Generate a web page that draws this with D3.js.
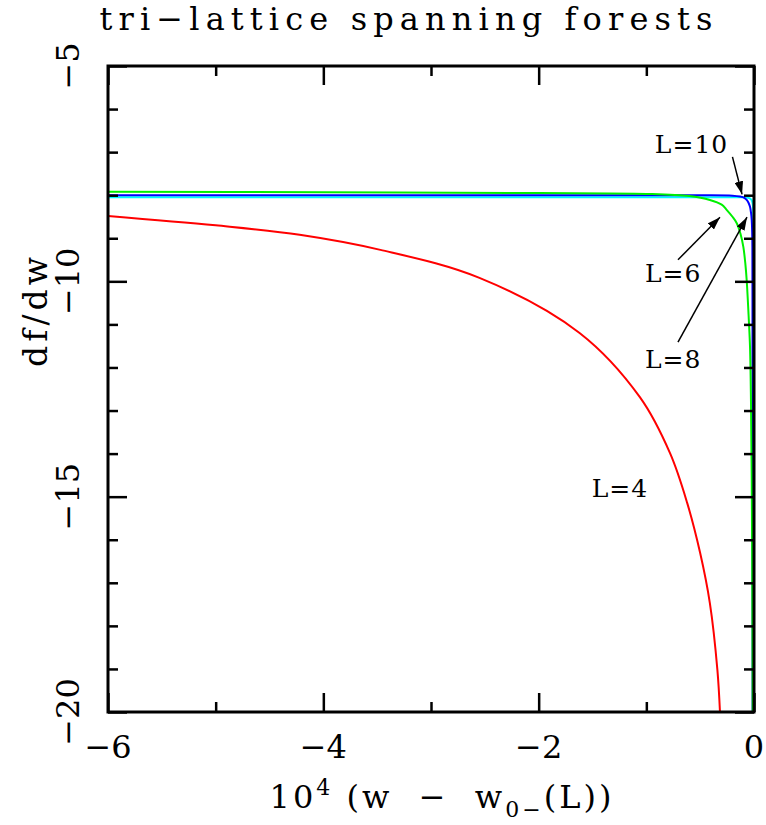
<!DOCTYPE html>
<html>
<head>
<meta charset="utf-8">
<script src="https://cdn.jsdelivr.net/npm/d3@7"></script>
<style>
  body { margin: 0; background: #fff; }
  text { font-family: "DejaVu Serif", serif; fill: #000; }
</style>
</head>
<body>
<div id="chart"></div>
<script>
// Chart size
var svgWidth = 766;
var svgHeight = 825;

var margin = { top: 66, right: 12, bottom: 113, left: 108 };
var width = svgWidth - margin.left - margin.right;
var height = svgHeight - margin.top - margin.bottom;

// Tick values
var xMajorTicks = [-6, -4, -2, 0];
var xMinorTicks = [-5, -3, -1];
var yMajorTicks = [-5, -10, -15, -20];
var yMinorTicks = [-6, -7, -8, -9, -11, -12, -13, -14, -16, -17, -18, -19];

// Series: df/dw against 10^4 (w - w0-(L))
var l4X = [-6, -5, -4.22, -3.47, -2.55, -1.62, -1.06, -0.78, -0.62, -0.5, -0.41, -0.34, -0.316];
var l4Y = [-8.48, -8.7, -8.92, -9.27, -9.92, -11.2, -12.69, -13.99, -15.15, -16.31, -17.47, -19.02, -20];

var l6X = [-6, -4, -2, -1, -0.6, -0.41, -0.3, -0.254, -0.2, -0.16, -0.125, -0.099, -0.08, -0.068, -0.05, -0.037, -0.028, -0.021, -0.015, -0.012];
var l6Y = [-7.92, -7.93, -7.95, -7.97, -8.02, -8.11, -8.22, -8.34, -8.5, -8.65, -8.9, -9.2, -9.6, -9.97, -10.8, -11.52, -12.8, -14.6, -17.7, -20];

var l8X = [-6, -2, -0.5, -0.2, -0.13, -0.09, -0.068, -0.05, -0.037, -0.028, -0.021, -0.017, -0.015, -0.014, -0.013];
var l8Y = [-8.0, -8.0, -8.0, -8.01, -8.03, -8.06, -8.11, -8.18, -8.27, -8.4, -8.58, -8.85, -9.2, -10.5, -20];

var l10X = [-6, -2, -0.5, -0.1, -0.06, -0.035, -0.021, -0.012, -0.008, -0.006, -0.005, -0.004];
var l10Y = [-8.05, -8.05, -8.05, -8.05, -8.06, -8.08, -8.12, -8.2, -8.3, -8.6, -9.5, -20];

var seriesNames = ["L=10", "L=8", "L=6", "L=4"];
var seriesColors = ["#00ffff", "#0000ff", "#00f000", "#ff0000"];
var seriesXs = [l10X, l8X, l6X, l4X];
var seriesYs = [l10Y, l8Y, l6Y, l4Y];

// Curve labels and arrows (data coordinates)
var labelTexts = ["L=10", "L=6", "L=8", "L=4"];
var labelX = [-0.58, -0.75, -0.75, -1.245];
var labelY = [-7.02, -10.02, -12.01, -15.01];
var arrowFrom = [[-0.2, -7.11], [-0.706, -9.5], [-0.706, -11.41]];
var arrowTo = [[-0.111, -7.98], [-0.316, -8.51], [-0.065, -8.51]];

var svg = d3.select("#chart")
    .append("svg")
    .attr("width", svgWidth)
    .attr("height", svgHeight);

var chartGroup = svg.append("g")
    .attr("transform", `translate(${margin.left}, ${margin.top})`);

var xScale = d3.scaleLinear().domain([-6, 0]).range([0, width]);
var yScale = d3.scaleLinear().domain([-20, -5]).range([height, 0]);

// Clip curves to the frame
svg.append("defs").append("clipPath")
    .attr("id", "plotClip")
    .append("rect")
    .attr("width", width)
    .attr("height", height);

svg.select("defs").append("marker")
    .attr("id", "arrowHead")
    .attr("viewBox", "0 0 12 8")
    .attr("refX", 12)
    .attr("refY", 4)
    .attr("markerUnits", "userSpaceOnUse")
    .attr("markerWidth", 13)
    .attr("markerHeight", 9)
    .attr("orient", "auto")
    .append("path")
    .attr("d", "M0,0 L12,4 L0,8 Z")
    .attr("fill", "#000");

// Curves
var line = d3.line()
    .x(d => xScale(d[0]))
    .y(d => yScale(d[1]))
    .curve(d3.curveCatmullRom.alpha(0.5));

var curveGroup = chartGroup.append("g").attr("clip-path", "url(#plotClip)");
seriesNames.forEach(function (name, i) {
    var pts = seriesXs[i].map((x, j) => [x, seriesYs[i][j]]);
    curveGroup.append("path")
        .datum(pts)
        .attr("fill", "none")
        .attr("stroke", seriesColors[i])
        .attr("stroke-width", 2)
        .attr("d", line);
});

// Ticks on all four sides, pointing inward
function drawTicks(axisFn, scale, values, size, transform) {
    chartGroup.append("g")
        .attr("transform", transform)
        .call(axisFn(scale).tickValues(values).tickSize(size).tickFormat(""))
        .call(g => g.select(".domain").remove())
        .call(g => g.selectAll("line").attr("stroke", "#000").attr("stroke-width", 2.5));
}
drawTicks(d3.axisBottom, xScale, xMajorTicks, -19, `translate(0, ${height})`);
drawTicks(d3.axisBottom, xScale, xMinorTicks, -10, `translate(0, ${height})`);
drawTicks(d3.axisTop, xScale, xMajorTicks, -19, "translate(0, 0)");
drawTicks(d3.axisTop, xScale, xMinorTicks, -10, "translate(0, 0)");
drawTicks(d3.axisLeft, yScale, yMajorTicks, -19, "translate(0, 0)");
drawTicks(d3.axisLeft, yScale, yMinorTicks, -10, "translate(0, 0)");
drawTicks(d3.axisRight, yScale, yMajorTicks, -19, `translate(${width}, 0)`);
drawTicks(d3.axisRight, yScale, yMinorTicks, -10, `translate(${width}, 0)`);

// Frame
chartGroup.append("rect")
    .attr("width", width)
    .attr("height", height)
    .attr("fill", "none")
    .attr("stroke", "#000")
    .attr("stroke-width", 3);

// Tick labels
var fmt = d => d < 0 ? "\u2212" + Math.abs(d) : String(d);

chartGroup.selectAll(".xlab")
    .data(xMajorTicks)
    .enter()
    .append("text")
    .attr("x", d => xScale(d))
    .attr("y", height + 46)
    .attr("text-anchor", "middle")
    .style("font-size", "32px")
    .text(fmt);

chartGroup.selectAll(".ylab")
    .data(yMajorTicks)
    .enter()
    .append("text")
    .attr("transform", d => `translate(-29, ${yScale(d)}) rotate(-90)`)
    .attr("text-anchor", "middle")
    .style("font-size", "32px")
    .text(fmt);

// Axis titles
var xTitle = svg.append("text")
    .attr("x", 442)
    .attr("y", 808)
    .attr("text-anchor", "middle")
    .style("font-size", "32px")
    .style("letter-spacing", "3px");
xTitle.append("tspan").text("10");
xTitle.append("tspan").attr("dy", -13).style("font-size", "22px").text("4");
xTitle.append("tspan").attr("dy", 13).text(" (w \u00a0\u2212\u00a0 w");
xTitle.append("tspan").attr("dy", 9).style("font-size", "22px").text("0\u2212");
xTitle.append("tspan").attr("dy", -9).text("(L))");

svg.append("text")
    .attr("transform", "translate(47, 310) rotate(-90)")
    .attr("text-anchor", "middle")
    .style("font-size", "33px")
    .style("letter-spacing", "4px")
    .text("df/dw");

svg.append("text")
    .attr("x", 406)
    .attr("y", 30)
    .attr("text-anchor", "middle")
    .attr("textLength", 613)
    .attr("lengthAdjust", "spacing")
    .style("font-size", "32px")
    .text("tri\u2212lattice spanning forests");

// Curve annotations
chartGroup.selectAll(".clab")
    .data(labelTexts)
    .enter()
    .append("text")
    .attr("x", (d, i) => xScale(labelX[i]))
    .attr("y", (d, i) => yScale(labelY[i]))
    .attr("text-anchor", "middle")
    .style("font-size", "25px")
    .style("letter-spacing", "1px")
    .text(d => d);

chartGroup.selectAll(".arrow")
    .data(arrowFrom)
    .enter()
    .append("line")
    .attr("x1", d => xScale(d[0]))
    .attr("y1", d => yScale(d[1]))
    .attr("x2", (d, i) => xScale(arrowTo[i][0]))
    .attr("y2", (d, i) => yScale(arrowTo[i][1]))
    .attr("stroke", "#000")
    .attr("stroke-width", 1.5)
    .attr("marker-end", "url(#arrowHead)");
</script>
</body>
</html>
